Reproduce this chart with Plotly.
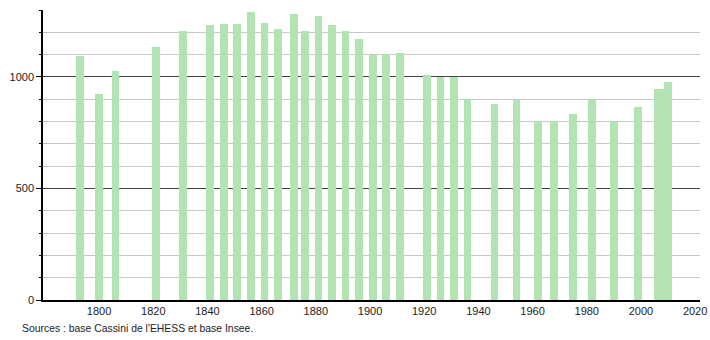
import plotly.graph_objects as go

years = [1793, 1800, 1806, 1821, 1831, 1841, 1846, 1851, 1856, 1861, 1866, 1872,
         1876, 1881, 1886, 1891, 1896, 1901, 1906, 1911, 1921, 1926, 1931, 1936,
         1946, 1954, 1962, 1968, 1975, 1982, 1990, 1999, 2006, 2010]
population = [1096, 924, 1028, 1136, 1208, 1232, 1236, 1236, 1292, 1243, 1213, 1284,
              1208, 1272, 1232, 1208, 1168, 1097, 1105, 1108, 1009, 1000, 1001, 901,
              879, 898, 804, 804, 835, 901, 796, 867, 944, 976]
x_ticks = [1800, 1820, 1840, 1860, 1880, 1900, 1920, 1940, 1960, 1980, 2000, 2020]
source_text = "Sources : base Cassini de l'EHESS et base Insee."

# bar geometry (style): standard bars, the last two drawn touching as in the source
bar_w = 2.8
widths = [bar_w] * len(years)
offsets = [-bar_w / 2] * len(years)
widths[-2] = 4.6
offsets[-2] = -1.2

fig = go.Figure()
fig.add_trace(go.Bar(
    x=years, y=population, width=widths, offset=offsets,
    marker=dict(color="#b3e3b3", line=dict(width=0)),
    hoverinfo="x+y",
))

fig.update_layout(
    width=710, height=340,
    margin=dict(l=43, r=10, t=10, b=40),
    plot_bgcolor="white", paper_bgcolor="white",
    showlegend=False,
    font=dict(family="Liberation Sans, Arial, sans-serif", size=11, color="#222"),
    bargap=0,
)
fig.update_xaxes(
    range=[1779.3, 2021.8],
    tickmode="array", tickvals=x_ticks,
    showgrid=False, zeroline=False,
    showline=True, linecolor="black", linewidth=1.5,
    ticks="", tickfont=dict(size=11, color="#222"),
    automargin=False,
    fixedrange=True,
)
fig.update_yaxes(
    range=[0, 1300],
    tick0=0, dtick=500,
    showgrid=True, gridcolor="#444", gridwidth=1,
    zeroline=False,
    showline=True, linecolor="black", linewidth=1.5,
    ticks="outside", ticklen=5, tickcolor="black", tickwidth=1,
    tickfont=dict(size=11, color="#222"),
    minor=dict(dtick=100, tick0=0, showgrid=True, gridcolor="#c8c8c8", gridwidth=1,
               ticks="outside", ticklen=2, tickcolor="black"),
    layer="below traces",
    automargin=False,
    fixedrange=True,
)
fig.add_annotation(
    text=source_text, xref="paper", yref="paper",
    x=-23 / 657, y=-21 / 290, xanchor="left", yanchor="top",
    showarrow=False, font=dict(size=10.4, color="#222"),
)
fig.write_html("out.html")
